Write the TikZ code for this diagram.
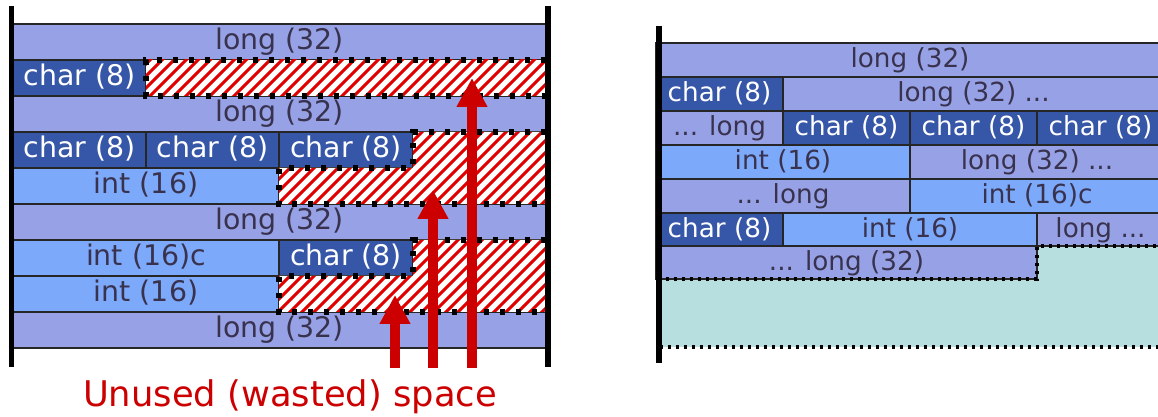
\documentclass[tikz,border=0pt]{standalone}
\usepackage{fontspec}
\setmainfont{DejaVu Sans}
\usetikzlibrary{fit,arrows.meta}
\definecolor{longc}{HTML}{97A1E5}
\definecolor{charc}{HTML}{3656A8}
\definecolor{intc}{HTML}{7DA9FA}
\definecolor{tealc}{HTML}{B8DFE0}
\definecolor{cellline}{HTML}{262626}
\definecolor{darktxt}{HTML}{38324E}
\definecolor{hatchred}{HTML}{E00000}
\definecolor{arrred}{HTML}{CC0000}
\tikzset{
  cellbase/.style={draw=cellline, line width=1.2pt, inner sep=0pt, outer sep=0pt},
  lbase/.style={inner sep=0pt, outer sep=0pt, text=darktxt},
  lblL/.style={lbase, font=\fontsize{21.3pt}{25pt}\selectfont, text height=16pt, text depth=4pt},
  lblR/.style={lbase, font=\fontsize{19.7pt}{23pt}\selectfont, text height=15.3pt, text depth=3.5pt},
  longc/.style={cellbase, fill=longc},
  charc/.style={cellbase, fill=charc},
  intc/.style={cellbase, fill=intc},
  hatchline/.style={draw=hatchred, line width=2.2pt},
  dotL/.style={draw=black, line width=4.1pt, dash pattern=on 4.1pt off 7.9pt},
  dotR/.style={draw=black, line width=2.6pt, dash pattern=on 2.6pt off 3.4pt},
  membar/.style={draw=black, line width=4pt},
  wastearrow/.style={draw=arrred, line width=7.5pt, -{Triangle[length=21.75pt,width=21.75pt]}},
}
\begin{document}
\begin{tikzpicture}[x=0.75pt,y=-0.75pt]
\useasboundingbox (0,0) rectangle (1158,417);

% ---------- left layout ----------
\node[longc, fit={(13,24)(546,60)}, label={[lblL]center:long (32)}] (l1) {};
\node[charc, fit={(13,60)(146,96)}, label={[lblL,text=white]center:char (8)}] (l2a) {};
\node[longc, fit={(13,96)(546,132)}, label={[lblL]center:long (32)}] (l3) {};
\node[charc, fit={(13,132)(146,168)}, label={[lblL,text=white]center:char (8)}] (l4a) {};
\node[charc, fit={(146,132)(279,168)}, label={[lblL,text=white]center:char (8)}] (l4b) {};
\node[charc, fit={(279,132)(413,168)}, label={[lblL,text=white]center:char (8)}] (l4c) {};
\node[intc, fit={(13,168)(279,204)}, label={[lblL]center:int (16)}] (l5a) {};
\node[longc, fit={(13,204)(546,240)}, label={[lblL]center:long (32)}] (l6) {};
\node[intc, fit={(13,240)(279,276)}, label={[lblL]center:int (16)c}] (l7a) {};
\node[charc, fit={(279,240)(413,276)}, label={[lblL,text=white]center:char (8)}] (l7b) {};
\node[intc, fit={(13,276)(279,312)}, label={[lblL]center:int (16)}] (l8a) {};
\node[longc, fit={(13,312)(546,348)}, label={[lblL]center:long (32)}] (l9) {};

% wasted regions
\begin{scope}
\clip (146,60) rectangle (546,96);
\fill[white] (146,60) rectangle (546,96);
\foreach \k in {0,...,40} {\draw[hatchline] (110+12*\k,100) -- ++(48,-48);}
\end{scope}
\begin{scope}
\clip (413,132) -- (546,132) -- (546,204) -- (279,204) -- (279,168) -- (413,168) -- cycle;
\fill[white] (270,120) rectangle (560,210);
\foreach \k in {0,...,30} {\draw[hatchline] (200+12*\k,210) -- ++(90,-90);}
\end{scope}
\begin{scope}
\clip (413,240) -- (546,240) -- (546,312) -- (279,312) -- (279,276) -- (413,276) -- cycle;
\fill[white] (270,230) rectangle (560,320);
\foreach \k in {0,...,30} {\draw[hatchline] (200+12*\k,318) -- ++(90,-90);}
\end{scope}

\draw[dotL] (546,60) -- (146,60) -- (146,96) -- (546,96);
\draw[dotL] (546,132) -- (413,132) -- (413,168) -- (279,168) -- (279,204) -- (546,204);
\draw[dotL] (546,240) -- (413,240) -- (413,276) -- (279,276) -- (279,312) -- (546,312);

% bars
\draw[membar] (11.5,6) -- (11.5,367);
\draw[membar] (548,6) -- (548,367);

% arrows
\coordinate (a1s) at (395,368);
\coordinate (a1t) at (395,295);
\coordinate (a2s) at (433,368);
\coordinate (a2t) at (433,190);
\coordinate (a3s) at (472,368);
\coordinate (a3t) at (472,78);
\draw[wastearrow] (a1s) -- (a1t);
\draw[wastearrow] (a2s) -- (a2t);
\draw[wastearrow] (a3s) -- (a3t);

\node[anchor=base, inner sep=0pt, text=arrred, font=\fontsize{26.5pt}{30pt}\selectfont]
  (waste) at (290,406.5) {Unused (wasted) space};

% ---------- right layout ----------
\begin{scope}
\clip (640,0) rectangle (1158,417);
\fill[tealc] (656,279) -- (1037,279) -- (1037,246) -- (1164,246) -- (1164,347) -- (656,347) -- cycle;
\node[longc, fit={(656,43)(1164,77)}, label={[lblR]center:long (32)}] (r1) {};
\node[charc, fit={(656,77)(783,111)}, label={[lblR,text=white]center:char (8)}] (r2a) {};
\node[longc, fit={(783,77)(1164,111)}, label={[lblR]center:long (32) ...}] (r2b) {};
\node[longc, fit={(656,111)(783,145)}, label={[lblR]center:... long}] (r3a) {};
\node[charc, fit={(783,111)(910,145)}, label={[lblR,text=white]center:char (8)}] (r3b) {};
\node[charc, fit={(910,111)(1037,145)}, label={[lblR,text=white]center:char (8)}] (r3c) {};
\node[charc, fit={(1037,111)(1164,145)}, label={[lblR,text=white]center:char (8)}] (r3d) {};
\node[intc, fit={(656,145)(910,179)}, label={[lblR]center:int (16)}] (r4a) {};
\node[longc, fit={(910,145)(1164,179)}, label={[lblR]center:long (32) ...}] (r4b) {};
\node[longc, fit={(656,179)(910,213)}, label={[lblR]center:... long}] (r5a) {};
\node[intc, fit={(910,179)(1164,213)}, label={[lblR]center:int (16)c}] (r5b) {};
\node[charc, fit={(656,213)(783,246)}, label={[lblR,text=white]center:char (8)}] (r6a) {};
\node[intc, fit={(783,213)(1037,246)}, label={[lblR]center:int (16)}] (r6b) {};
\node[longc, fit={(1037,213)(1164,246)}, label={[lblR]center:long ...}] (r6c) {};
\node[longc, fit={(656,246)(1037,279)}, label={[lblR]center:... long (32)}] (r7) {};
\draw[dotR] (1164,246) -- (1037,246) -- (1037,279) -- (660,279);
\draw[dotR] (660,347) -- (1164,347);
\end{scope}
\draw[membar, line width=4.5pt] (659,26) -- (659,363);
\end{tikzpicture}
\end{document}
